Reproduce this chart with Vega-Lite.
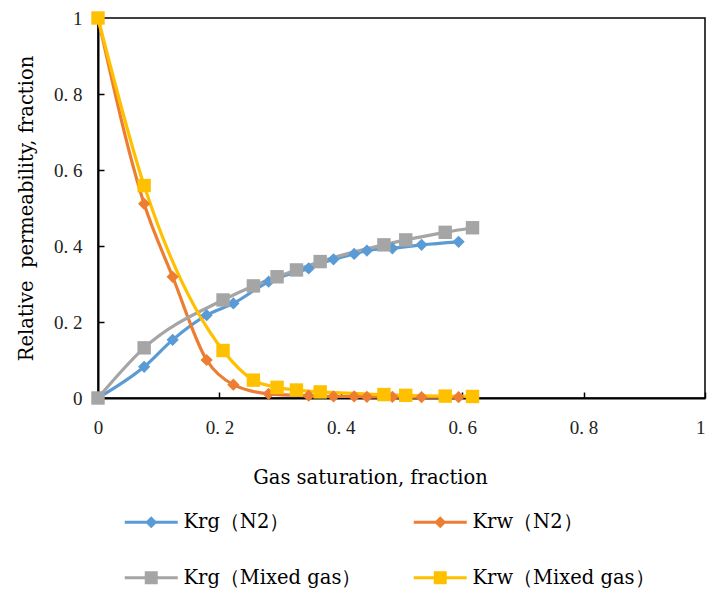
{
  "$schema": "https://vega.github.io/schema/vega-lite/v6.json",
  "width": 607,
  "height": 380,
  "autosize": {"type": "none"},
  "padding": {"left": 98, "top": 18, "right": 3, "bottom": 193},
  "background": "white",
  "config": {
    "view": {"stroke": "black", "strokeWidth": 1.5},
    "axis": {
      "grid": false,
      "domainColor": "black",
      "domainWidth": 2,
      "tickColor": "black",
      "tickWidth": 1.5,
      "tickSize": -6,
      "labelFont": "Liberation Serif",
      "labelFontSize": 19,
      "labelColor": "#222222",
      "titleFont": "DejaVu Serif",
      "titleFontSize": 19.5,
      "titleFontWeight": "normal",
      "titleColor": "black"
    },
    "legend": {
      "labelFont": "DejaVu Serif",
      "labelFontSize": 19.5,
      "labelColor": "black",
      "labelLimit": 400
    }
  },
  "data": {
    "values": [
      {"series": "Krg（N2）", "sg": 0, "kr": 0},
      {"series": "Krg（N2）", "sg": 0.076, "kr": 0.082},
      {"series": "Krg（N2）", "sg": 0.123, "kr": 0.153},
      {"series": "Krg（N2）", "sg": 0.179, "kr": 0.218},
      {"series": "Krg（N2）", "sg": 0.223, "kr": 0.249},
      {"series": "Krg（N2）", "sg": 0.281, "kr": 0.306},
      {"series": "Krg（N2）", "sg": 0.347, "kr": 0.341},
      {"series": "Krg（N2）", "sg": 0.388, "kr": 0.365},
      {"series": "Krg（N2）", "sg": 0.422, "kr": 0.379},
      {"series": "Krg（N2）", "sg": 0.443, "kr": 0.388},
      {"series": "Krg（N2）", "sg": 0.485, "kr": 0.394},
      {"series": "Krg（N2）", "sg": 0.533, "kr": 0.403},
      {"series": "Krg（N2）", "sg": 0.594, "kr": 0.411},
      {"series": "Krw（N2）", "sg": 0, "kr": 1},
      {"series": "Krw（N2）", "sg": 0.076, "kr": 0.511},
      {"series": "Krw（N2）", "sg": 0.123, "kr": 0.319},
      {"series": "Krw（N2）", "sg": 0.179, "kr": 0.1},
      {"series": "Krw（N2）", "sg": 0.223, "kr": 0.035},
      {"series": "Krw（N2）", "sg": 0.281, "kr": 0.011},
      {"series": "Krw（N2）", "sg": 0.347, "kr": 0.006},
      {"series": "Krw（N2）", "sg": 0.388, "kr": 0.004},
      {"series": "Krw（N2）", "sg": 0.422, "kr": 0.004},
      {"series": "Krw（N2）", "sg": 0.443, "kr": 0.003},
      {"series": "Krw（N2）", "sg": 0.485, "kr": 0.003},
      {"series": "Krw（N2）", "sg": 0.533, "kr": 0.002},
      {"series": "Krw（N2）", "sg": 0.594, "kr": 0.002},
      {"series": "Krg（Mixed gas）", "sg": 0, "kr": 0},
      {"series": "Krg（Mixed gas）", "sg": 0.076, "kr": 0.132},
      {"series": "Krg（Mixed gas）", "sg": 0.206, "kr": 0.258},
      {"series": "Krg（Mixed gas）", "sg": 0.256, "kr": 0.295},
      {"series": "Krg（Mixed gas）", "sg": 0.295, "kr": 0.319},
      {"series": "Krg（Mixed gas）", "sg": 0.327, "kr": 0.337},
      {"series": "Krg（Mixed gas）", "sg": 0.366, "kr": 0.359},
      {"series": "Krg（Mixed gas）", "sg": 0.471, "kr": 0.403},
      {"series": "Krg（Mixed gas）", "sg": 0.507, "kr": 0.416},
      {"series": "Krg（Mixed gas）", "sg": 0.572, "kr": 0.436},
      {"series": "Krg（Mixed gas）", "sg": 0.617, "kr": 0.448},
      {"series": "Krw（Mixed gas）", "sg": 0, "kr": 1},
      {"series": "Krw（Mixed gas）", "sg": 0.076, "kr": 0.559},
      {"series": "Krw（Mixed gas）", "sg": 0.206, "kr": 0.125},
      {"series": "Krw（Mixed gas）", "sg": 0.256, "kr": 0.047},
      {"series": "Krw（Mixed gas）", "sg": 0.295, "kr": 0.028},
      {"series": "Krw（Mixed gas）", "sg": 0.327, "kr": 0.021},
      {"series": "Krw（Mixed gas）", "sg": 0.366, "kr": 0.016},
      {"series": "Krw（Mixed gas）", "sg": 0.471, "kr": 0.009},
      {"series": "Krw（Mixed gas）", "sg": 0.507, "kr": 0.007},
      {"series": "Krw（Mixed gas）", "sg": 0.572, "kr": 0.005},
      {"series": "Krw（Mixed gas）", "sg": 0.617, "kr": 0.004}
    ]
  },
  "encoding": {
    "x": {
      "field": "sg",
      "type": "quantitative",
      "scale": {"domain": [0, 1], "nice": false, "zero": false},
      "axis": {
        "title": "Gas saturation, fraction",
        "values": [0, 0.2, 0.4, 0.6, 0.8, 1],
        "format": "~g",
        "labelExpr": "replace(datum.label, '.', '. ')",
        "labelPadding": 26,
        "labelFlush": false,
        "labelAlign": {"expr": "datum.value == 1 ? 'right' : 'center'"},
        "titleX": 272,
        "titleY": 85,
        "titleBaseline": "alphabetic",
        "titleAlign": "center"
      }
    },
    "y": {
      "field": "kr",
      "type": "quantitative",
      "scale": {"domain": [0, 1], "nice": false},
      "axis": {
        "title": "Relative\u00a0 permeability, fraction",
        "values": [0, 0.2, 0.4, 0.6, 0.8, 1],
        "format": "~g",
        "labelExpr": "replace(datum.label, '.', '. ')",
        "labelPadding": 22,
        "labelFlush": false,
        "titleX": -66,
        "titleY": 190,
        "titleAngle": -90,
        "titleBaseline": "alphabetic",
        "titleAlign": "center"
      }
    },
    "color": {
      "field": "series",
      "type": "nominal",
      "sort": ["Krg（N2）", "Krw（N2）", "Krg（Mixed gas）", "Krw（Mixed gas）"],
      "scale": {
        "domain": ["Krg（N2）", "Krw（N2）", "Krg（Mixed gas）", "Krw（Mixed gas）"],
        "range": ["#5B9BD5", "#ED7D31", "#A5A5A5", "#FFC000"]
      },
      "legend": {
        "title": null,
        "orient": "none",
        "direction": "horizontal",
        "legendX": 22,
        "legendY": 494,
        "columns": 2,
        "columnPadding": 47,
        "rowPadding": 35,
        "symbolSize": 100,
        "symbolStrokeWidth": 0,
        "symbolOpacity": 1,
        "labelOffset": 44,
        "padding": 0
      }
    }
  },
  "layer": [
    {
      "mark": {"type": "point", "filled": true, "opacity": 0, "size": 100},
      "encoding": {
        "shape": {
          "field": "series",
          "type": "nominal",
          "sort": ["Krg（N2）", "Krw（N2）", "Krg（Mixed gas）", "Krw（Mixed gas）"],
          "scale": {
            "domain": ["Krg（N2）", "Krw（N2）", "Krg（Mixed gas）", "Krw（Mixed gas）"],
            "range": [
              "M-1,-0.3H9.6V0.3H-1Z M4.3,-1.2L5.5,0L4.3,1.2L3.1,0Z",
              "M-1,-0.3H9.6V0.3H-1Z M4.3,-1.2L5.5,0L4.3,1.2L3.1,0Z",
              "M-1,-0.3H9.6V0.3H-1Z M3,-1.3H5.6V1.3H3Z",
              "M-1,-0.3H9.6V0.3H-1Z M3,-1.3H5.6V1.3H3Z"
            ]
          },
          "legend": {
            "title": null,
            "orient": "none",
            "direction": "horizontal",
            "legendX": 22,
            "legendY": 494,
            "columns": 2,
            "columnPadding": 47,
            "rowPadding": 35,
            "symbolSize": 100,
            "symbolStrokeWidth": 0,
            "symbolOpacity": 1,
            "labelOffset": 44,
            "padding": 0
          }
        }
      }
    },
    {
      "mark": {"type": "line", "interpolate": "monotone", "strokeWidth": 3.2, "clip": false},
      "encoding": {"order": {"field": "sg", "type": "quantitative"}}
    },
    {
      "transform": [{"filter": "indexof(datum.series, 'N2') >= 0"}],
      "mark": {"type": "point", "shape": "diamond", "filled": true, "opacity": 1, "size": 150, "strokeWidth": 0}
    },
    {
      "transform": [{"filter": "indexof(datum.series, 'Mixed') >= 0"}],
      "mark": {"type": "point", "shape": "square", "filled": true, "opacity": 1, "size": 180, "strokeWidth": 0}
    }
  ]
}
